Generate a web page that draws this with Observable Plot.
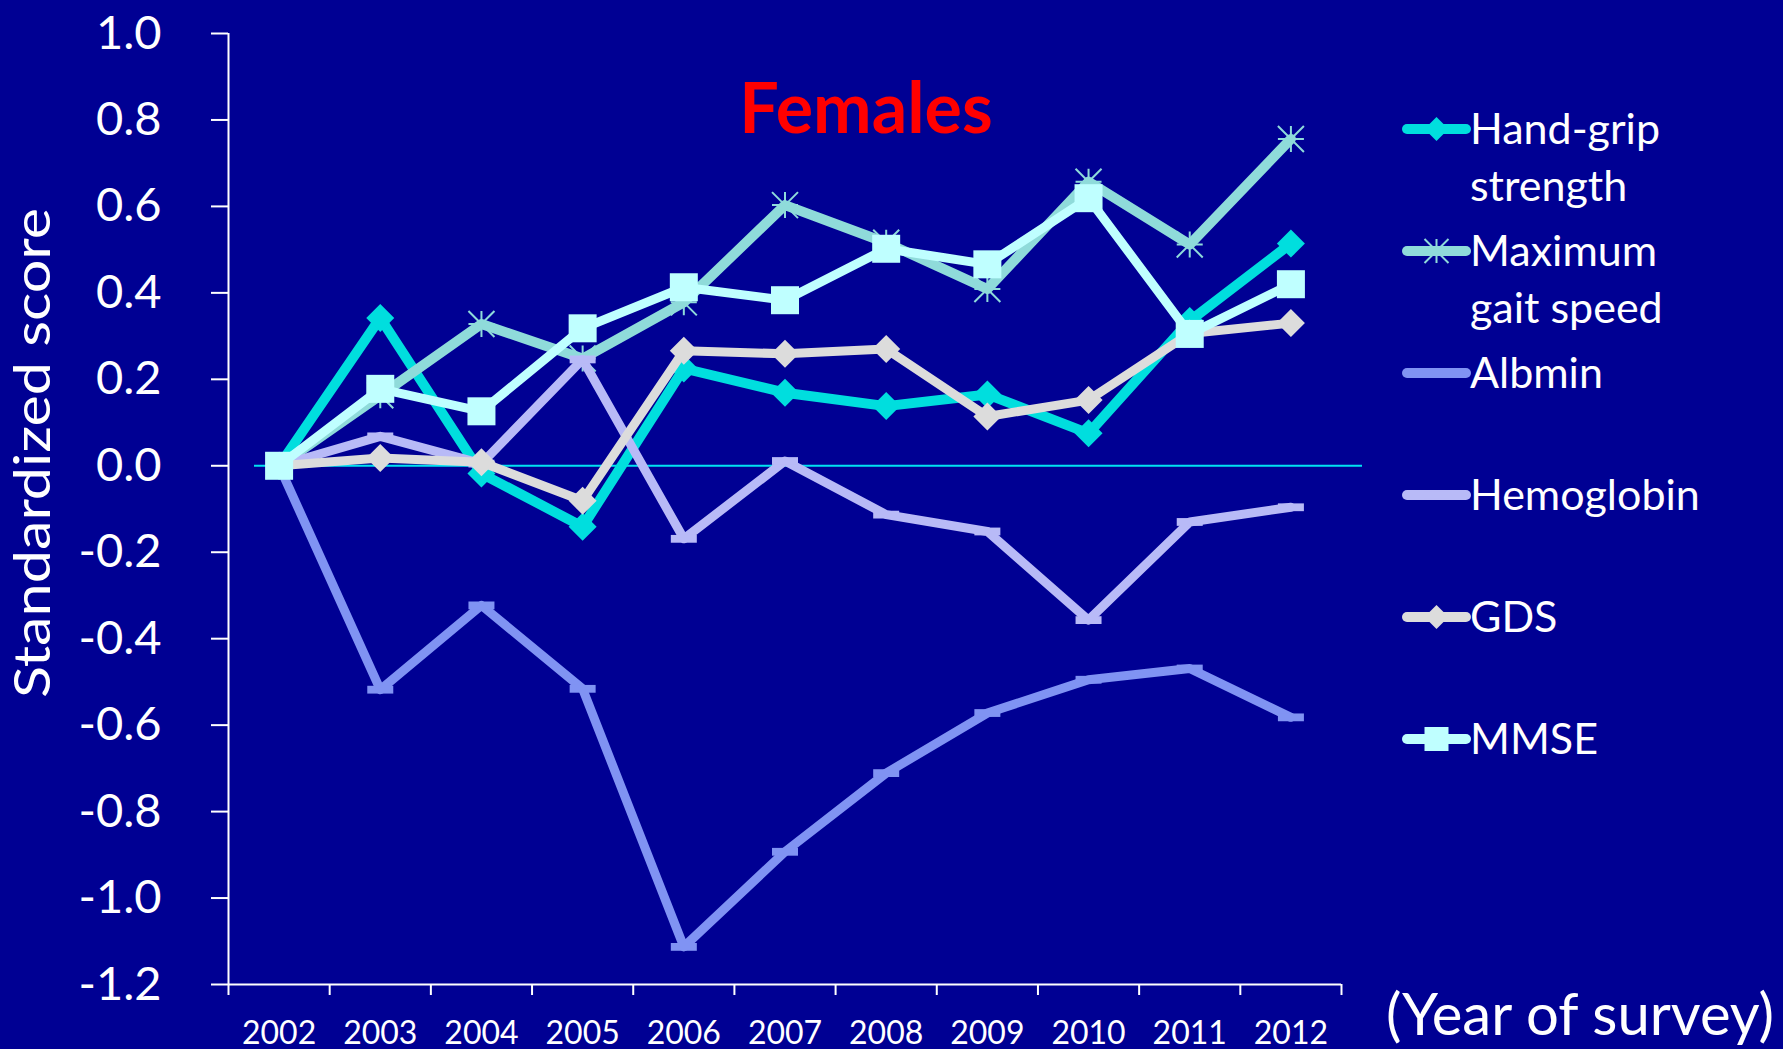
<!DOCTYPE html>
<html>
<head>
<meta charset="utf-8">
<script src="https://cdn.jsdelivr.net/npm/d3@7"></script>
<script src="https://cdn.jsdelivr.net/npm/@observablehq/plot@0.6"></script>
<style>
  html, body { margin: 0; padding: 0; background: #000093; }
  #chart svg { display: block; }
</style>
</head>
<body>
<div id="chart"></div>
<script>
// Survey years and standardized scores (change from 2002), females
const years = [2002, 2003, 2004, 2005, 2006, 2007, 2008, 2009, 2010, 2011, 2012];
const handGrip     = [0, 0.342, -0.018, -0.141, 0.225, 0.169, 0.138, 0.165, 0.075, 0.335, 0.514];
const maxGaitSpeed = [0, 0.163, 0.328, 0.248, 0.378, 0.603, 0.516, 0.409, 0.657, 0.512, 0.756];
const albmin       = [0, -0.518, -0.323, -0.516, -1.113, -0.893, -0.711, -0.572, -0.495, -0.469, -0.582];
const hemoglobin   = [0, 0.068, 0.005, 0.246, -0.169, 0.011, -0.113, -0.152, -0.357, -0.130, -0.096];
const gds          = [0, 0.018, 0.008, -0.081, 0.266, 0.259, 0.270, 0.114, 0.152, 0.306, 0.330];
const mmse         = [0, 0.178, 0.126, 0.318, 0.413, 0.383, 0.502, 0.466, 0.619, 0.305, 0.420];
const yTicks = [-1.2, -1.0, -0.8, -0.6, -0.4, -0.2, 0, 0.2, 0.4, 0.6, 0.8, 1.0];
const seriesLabels = [["Hand-grip", "strength"], ["Maximum", "gait speed"], ["Albmin"], ["Hemoglobin"], ["GDS"], ["MMSE"]];

// Marker shapes (size is the area Plot passes in; r is the half-width)
const half = size => Math.sqrt(size / Math.PI);
const diamond = {draw(c, size) { const r = half(size); c.moveTo(0, -r); c.lineTo(r, 0); c.lineTo(0, r); c.lineTo(-r, 0); c.closePath(); }};
const square  = {draw(c, size) { const r = half(size); c.rect(-r, -r, 2 * r, 2 * r); }};
const star    = {draw(c, size) { const r = half(size);
  c.moveTo(0, -r); c.lineTo(0, r); c.moveTo(-r, -r); c.lineTo(r, r);
  c.moveTo(-r, r); c.lineTo(r, -r); c.moveTo(-r, 0); c.lineTo(r, 0); }};
const dash    = {draw(c, size) { const r = half(size); c.rect(-r, -r * 0.3, 2 * r, r * 0.6); }};

const series = [
  {values: handGrip,     color: "#00DEDE", width: 10, symbol: diamond, r: 14,   filled: true},
  {values: maxGaitSpeed, color: "#8FDBDA", width: 10, symbol: star,    r: 13,   filled: false},
  {values: albmin,       color: "#8093F3", width: 9,  symbol: dash,    r: 13,   filled: true},
  {values: hemoglobin,   color: "#B8BAF7", width: 9,  symbol: dash,    r: 13,   filled: true},
  {values: gds,          color: "#DCDCDC", width: 9,  symbol: diamond, r: 14,   filled: true},
  {values: mmse,         color: "#BFFFFF", width: 9,  symbol: square,  r: 14,   filled: true}
].map((s, k) => ({...s, name: seriesLabels[k].join(" "), label: seriesLabels[k]}));

const boundaries = d3.range(years.length + 1).map(i => years[0] - 0.5 + i);

const seriesMarks = series.flatMap(s => {
  const data = years.map((year, i) => ({series: s.name, year, value: s.values[i]}));
  return [
    Plot.line(data, {x: "year", y: "value", stroke: s.color, strokeWidth: s.width}),
    Plot.dot(data, {
      x: "year", y: "value", r: s.r, symbol: s.symbol,
      fill: s.filled ? s.color : "none",
      stroke: s.filled ? "none" : s.color,
      strokeWidth: s.filled ? 0 : 2
    })
  ];
});

const chart = Plot.plot({
  width: 1783,
  height: 1049,
  marginLeft: 228,
  marginRight: 442,
  marginTop: 33,
  marginBottom: 65,
  x: {domain: [boundaries[0], boundaries[boundaries.length - 1]]},
  y: {domain: [yTicks[0], yTicks[yTicks.length - 1]]},
  style: {background: "#000093", color: "white", fontFamily: "Lato, 'Open Sans', sans-serif", overflow: "visible"},
  marks: [
    Plot.ruleY([0], {stroke: "#00E2F2", strokeWidth: 2, insetLeft: 26, insetRight: -21}),
    Plot.axisY({ticks: yTicks, tickSize: 17, tickPadding: 50, strokeWidth: 2,
      tickFormat: d => d.toFixed(1), fontSize: 47, label: null}),
    Plot.axisX({ticks: boundaries, tickSize: 11, strokeWidth: 2, tickFormat: () => "", label: null}),
    Plot.axisX({ticks: years, tickSize: 0, tickPadding: 37, tickFormat: d => String(d), fontSize: 32, label: null}),
    Plot.ruleX([boundaries[0]], {stroke: "white", strokeWidth: 2}),
    Plot.ruleY([yTicks[0]], {stroke: "white", strokeWidth: 2}),
    ...seriesMarks
  ]
});

document.getElementById("chart").appendChild(chart);

const svg = d3.select(chart);
const font = "Lato, 'Open Sans', sans-serif";

// Panel title
svg.append("text")
  .attr("x", 866).attr("y", 133)
  .attr("text-anchor", "middle")
  .attr("font-family", font).attr("font-weight", 700).attr("font-size", 70)
  .attr("fill", "#FF0000")
  .text("Females");

// Axis titles
svg.append("text")
  .attr("transform", "translate(50,453) rotate(-90)")
  .attr("text-anchor", "middle")
  .attr("font-family", font).attr("font-size", 50)
  .attr("fill", "white")
  .attr("textLength", 490).attr("lengthAdjust", "spacingAndGlyphs")
  .text("Standardized score");

svg.append("text")
  .attr("x", 1580).attr("y", 1035)
  .attr("text-anchor", "middle")
  .attr("font-family", font).attr("font-size", 58)
  .attr("fill", "white")
  .text("(Year of survey)");

// Legend: line sample with marker, then the series name
const legend = svg.append("g")
  .attr("font-family", font).attr("font-size", 43)
  .attr("fill", "white").attr("text-anchor", "start");
series.forEach((s, i) => {
  const y = 129 + 122 * i;
  const g = legend.append("g");
  g.append("line")
    .attr("x1", 1407).attr("x2", 1466).attr("y1", y).attr("y2", y)
    .attr("stroke", s.color).attr("stroke-width", 10).attr("stroke-linecap", "round");
  g.append("path")
    .attr("transform", `translate(1436.5,${y})`)
    .attr("d", d3.symbol(s.symbol, Math.PI * 12 * 12)())
    .attr("fill", s.filled ? s.color : "none")
    .attr("stroke", s.filled ? "none" : s.color)
    .attr("stroke-width", 2);
  s.label.forEach((line, j) => {
    g.append("text")
      .attr("x", 1470).attr("y", y + 15 + 57 * j)
      .attr("text-anchor", "start")
      .text(line);
  });
});
</script>
</body>
</html>
